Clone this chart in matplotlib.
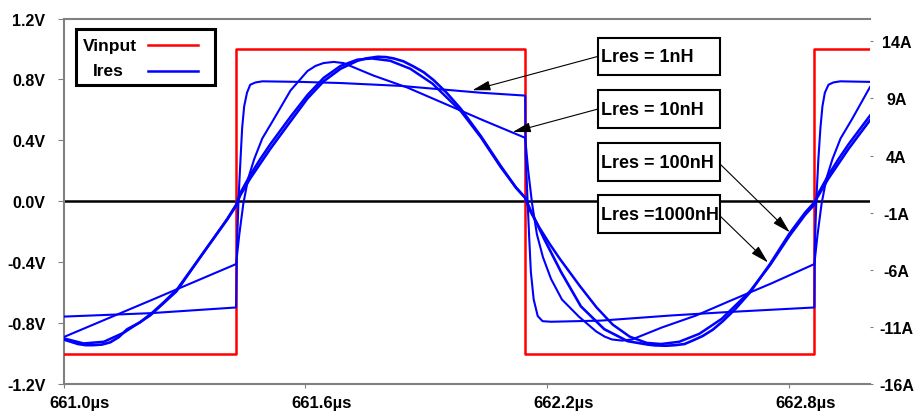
import matplotlib
matplotlib.use("Agg")
import matplotlib.pyplot as plt
from matplotlib.patches import Rectangle
from matplotlib.lines import Line2D
from matplotlib.transforms import ScaledTranslation

plt.rcParams.update({"font.family": ["Liberation Sans", "DejaVu Sans"],
                     "font.weight": "bold", "font.size": 11.5})

# input square wave (V) vs time (us)
vin_t = [661.000, 661.428, 661.428, 662.145, 662.145, 662.862, 662.862, 663.000]
vin_v = [-1, -1, 1, 1, -1, -1, 1, 1]

# resonator current (A) for each Lres
i1_t = [661.000, 661.215, 661.428, 661.430, 661.434, 661.439, 661.443, 661.448,
        661.455, 661.463, 661.476, 661.493, 661.588, 661.687, 661.836, 661.935,
        662.035, 662.145, 662.146, 662.151, 662.155, 662.159, 662.166, 662.176,
        662.188, 662.209, 662.333, 662.507, 662.648, 662.862, 662.863, 662.867,
        662.872, 662.877, 662.882, 662.888, 662.897, 662.909, 662.926, 663.000]
i1_a = [-10.1, -9.8, -9.3, -4.2, 0.2, 3.7, 6.4, 8.3,
        9.5, 10.2, 10.4, 10.5, 10.45, 10.35, 10.1, 9.8,
        9.5, 9.25, 4.2, -0.1, -3.3, -6.2, -8.6, -10.05,
        -10.5, -10.55, -10.45, -10.0, -9.7, -9.3, -4.2, 0.2,
        3.7, 6.4, 8.3, 9.5, 10.2, 10.4, 10.5, 10.45]

i10_t = [661.000, 661.215, 661.428, 661.436, 661.446, 661.458, 661.473, 661.493,
         661.520, 661.563, 661.605, 661.625, 661.645, 661.670, 661.694, 661.769,
         661.853, 661.935, 662.040, 662.145, 662.152, 662.162, 662.174, 662.189,
         662.209, 662.236, 662.278, 662.321, 662.342, 662.360, 662.385, 662.410,
         662.484, 662.569, 662.651, 662.755, 662.862, 662.870, 662.880, 662.892,
         662.907, 662.927, 662.954, 663.000]
i10_a = [-11.9, -8.7, -5.5, -2.9, -0.2, 2.0, 3.7, 5.5,
         7.1, 9.7, 11.4, 11.85, 12.1, 12.2, 12.1, 11.0,
         9.95, 8.7, 7.1, 5.55, 2.8, -0.2, -2.9, -4.9,
         -6.8, -8.6, -10.1, -11.4, -11.85, -12.1, -12.2, -12.1,
         -11.05, -10.0, -8.75, -7.2, -5.5, -2.9, -0.2, 2.0,
         3.7, 5.5, 7.1, 10.0]

i100_t = [661.000, 661.050, 661.100, 661.150, 661.215, 661.280, 661.345, 661.405,
          661.428, 661.438, 661.463, 661.488, 661.513, 661.563, 661.605, 661.645,
          661.687, 661.729, 661.765, 661.810, 661.860, 661.915, 661.985, 662.035,
          662.084, 662.122, 662.145, 662.155, 662.180, 662.205, 662.230, 662.280,
          662.322, 662.362, 662.404, 662.446, 662.482, 662.527, 662.577, 662.632,
          662.702, 662.752, 662.801, 662.839, 662.862, 662.872, 662.897, 662.922,
          662.947, 663.000]
i100_a = [-12.0, -12.45, -12.3, -11.5, -10.0, -7.9, -4.6, -1.6,
          -0.3, 0.7, 2.3, 3.7, 5.0, 7.4, 9.3, 10.8,
          11.85, 12.4, 12.5, 12.3, 11.6, 10.3, 7.9, 5.6,
          3.0, 1.2, 0.3, -0.7, -2.3, -3.7, -5.0, -7.4,
          -9.3, -10.8, -11.85, -12.4, -12.5, -12.3, -11.6, -10.3,
          -7.9, -5.6, -3.0, -1.2, -0.3, 0.7, 2.3, 3.7,
          5.0, 7.5]

i1000_t = [661.000, 661.036, 661.055, 661.073, 661.095, 661.116, 661.137, 661.158,
           661.190, 661.222, 661.250, 661.282, 661.347, 661.406, 661.428, 661.438,
           661.463, 661.488, 661.513, 661.563, 661.605, 661.645, 661.687, 661.729,
           661.750, 661.779, 661.800, 661.819, 661.843, 661.868, 661.893, 661.918,
           661.950, 661.985, 662.035, 662.084, 662.122, 662.145, 662.159, 662.192,
           662.234, 662.283, 662.341, 662.399, 662.449, 662.467, 662.494, 662.517,
           662.540, 662.560, 662.585, 662.610, 662.635, 662.667, 662.702, 662.752,
           662.801, 662.839, 662.862, 662.872, 662.897, 662.922, 662.947, 663.000]
i1000_a = [-12.1, -12.5, -12.6, -12.6, -12.55, -12.35, -11.9, -11.2,
           -10.6, -9.7, -8.8, -7.7, -4.5, -1.6, -0.4, 0.5,
           2.0, 3.3, 4.6, 7.0, 9.0, 10.5, 11.6, 12.3,
           12.5, 12.65, 12.62, 12.5, 12.25, 11.8, 11.3, 10.6,
           9.5, 8.1, 5.7, 3.1, 1.2, 0.3, -0.85, -3.3,
           -6.2, -9.2, -11.2, -12.25, -12.55, -12.62, -12.65, -12.6,
           -12.5, -12.2, -11.8, -11.25, -10.5, -9.4, -8.0, -5.5,
           -2.8, -1.0, -0.1, 0.5, 2.0, 3.3, 4.6, 7.1]

x_ticks = [661.0, 661.6, 662.2, 662.8]
x_labels = ["661.0µs", "661.6µs", "662.2µs", "662.8µs"]
v_ticks = [-1.2, -0.8, -0.4, 0.0, 0.4, 0.8, 1.2]
v_labels = ["-1.2V", "-0.8V", "-0.4V", "0.0V", "0.4V", "0.8V", "1.2V"]
a_ticks = [-16, -11, -6, -1, 4, 9, 14]
a_labels = ["-16A", "-11A", "-6A", "-1A", "4A", "9A", "14A"]

box_labels = ["Lres = 1nH", "Lres = 10nH", "Lres = 100nH", "Lres =1000nH"]
box_mid = [12.68, 8.07, 3.43, -1.14]
arrow_from = [(662.325, 12.68), (662.325, 8.07), (662.627, 3.3), (662.627, -1.25)]
arrow_to = [(662.014, 9.72), (662.114, 6.06), (662.801, -2.72), (662.747, -5.36)]

GREY = "#808080"
BLUE = "#0000ff"

fig = plt.figure(figsize=(9.14, 4.14), dpi=100)
ax = fig.add_axes([63.5 / 914, 29 / 414, 806.5 / 914, 365.5 / 414])
ax2 = ax.twinx()

ax.axhline(0, color="black", lw=1.8, zorder=2)
ax.plot(vin_t, vin_v, color="#ff0000", lw=1.8, zorder=3)

ax2.plot(i1_t, i1_a, color=BLUE, lw=1.5)
ax2.plot(i10_t, i10_a, color=BLUE, lw=1.5)
ax2.plot(i100_t, i100_a, color=BLUE, lw=1.8)
ax2.plot(i1000_t, i1000_a, color=BLUE, lw=1.9)

ax.set_xlim(661.0, 663.0)
ax.set_ylim(-1.2, 1.2)
ax2.set_ylim(-16, 16)

ax.set_xticks(x_ticks)
ax.set_xticklabels(x_labels)
ax.set_yticks(v_ticks)
ax.set_yticklabels(v_labels)
ax2.set_yticks(a_ticks)
ax2.set_yticklabels(a_labels)

ax.tick_params(axis="y", length=4, color=GREY, pad=9)
ax.tick_params(axis="x", length=3, color=GREY, pad=5, labelsize=12)
ax2.tick_params(axis="y", length=2, color=GREY, pad=17)
for lab in ax2.get_yticklabels():
    lab.set_horizontalalignment("center")
shift = ScaledTranslation(16 / 100, 0, fig.dpi_scale_trans)
for lab in ax.get_xticklabels():
    lab.set_transform(lab.get_transform() + shift)

ax.spines["right"].set_visible(False)
for s in ("left", "bottom", "top"):
    ax.spines[s].set_color(GREY)
    ax.spines[s].set_linewidth(1.5)
for s in ax2.spines.values():
    s.set_visible(False)

# Lres call-out boxes with arrows
for lab, mid in zip(box_labels, box_mid):
    ax2.add_patch(Rectangle((662.325, mid - 1.645), 0.302, 3.29, fc="white",
                            ec="black", lw=1.5, zorder=5))
    ax2.text(662.334, mid, lab, ha="left", va="center", fontsize=13, zorder=6)
for start, tip in zip(arrow_from, arrow_to):
    ax2.annotate("", xy=tip, xytext=start, zorder=6,
                 arrowprops=dict(arrowstyle="-|>,head_length=0.55,head_width=0.15",
                                 color="black", lw=0.8, mutation_scale=20,
                                 shrinkA=0, shrinkB=0))

# legend drawn by hand (text before line, framed box)
fig.add_artist(Rectangle((76 / 914, 1 - 86 / 414), 139 / 914, 56 / 414,
                         transform=fig.transFigure, fc="white", ec="black",
                         lw=2.2, zorder=10))
fig.text(83 / 914, 1 - 46 / 414, "Vinput", ha="left", va="center", fontsize=12.5, zorder=11)
fig.text(93 / 914, 1 - 72 / 414, "Ires", ha="left", va="center", fontsize=12.5, zorder=11)
fig.add_artist(Line2D([148 / 914, 198 / 914], [1 - 46 / 414] * 2, color="#ff0000",
                      lw=1.8, transform=fig.transFigure, zorder=11))
fig.add_artist(Line2D([148 / 914, 198 / 914], [1 - 72 / 414] * 2, color=BLUE,
                      lw=1.8, transform=fig.transFigure, zorder=11))

fig.savefig("out.png", dpi=100)
